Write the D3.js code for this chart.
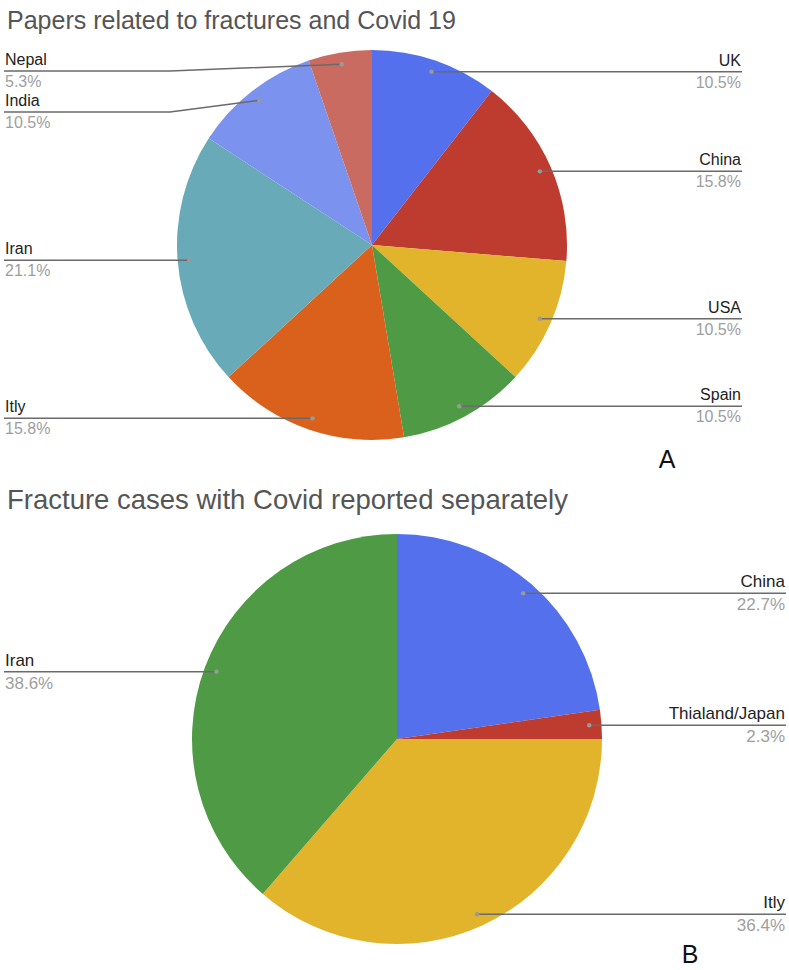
<!DOCTYPE html>
<html>
<head>
<meta charset="utf-8">
<script src="https://cdn.jsdelivr.net/npm/d3@7"></script>
<style>
  body { margin: 0; background: #fff; }
  text { font-family: "Liberation Sans", Arial, sans-serif; }
</style>
</head>
<body>
<svg id="chart" width="789" height="970"></svg>
<script>
// chart A: papers per country (counts, 19 papers)
const papersCountries = ["UK", "China", "USA", "Spain", "Itly", "Iran", "India", "Nepal"];
const papersCounts = [2, 3, 2, 2, 3, 4, 2, 1];
const papersColors = ["#5470ec", "#bd3b2f", "#e2b42b", "#4f9b45", "#d9611c", "#68aab7", "#7b92ef", "#c96b61"];

// chart B: fracture cases per country (44 cases)
const casesCountries = ["China", "Thialand/Japan", "Itly", "Iran"];
const casesCounts = [10, 1, 16, 17];
const casesColors = ["#5470ec", "#bd3b2f", "#e2b42b", "#4f9b45"];

const svg = d3.select("#chart");
svg.append("rect").attr("width", 789).attr("height", 970).attr("fill", "#fff");

const pct = d3.format(".1%");

function drawPie(opts) {
  const g = svg.append("g");
  const total = d3.sum(opts.values);

  g.append("text")
    .attr("x", 7).attr("y", opts.titleY)
    .attr("font-size", opts.titleSize).attr("fill", "#555")
    .text(opts.title);

  const pie = d3.pie().sort(null).value(d => d.v);
  const arcs = pie(opts.names.map((n, i) => ({ name: n, v: opts.values[i], color: opts.colors[i] })));
  const arc = d3.arc().innerRadius(0).outerRadius(opts.r);
  const anchorArc = d3.arc().innerRadius(opts.r * 0.94).outerRadius(opts.r * 0.94);

  const pieG = g.append("g").attr("transform", "translate(" + opts.cx + "," + opts.cy + ")");
  pieG.selectAll("path")
    .data(arcs)
    .enter().append("path")
      .attr("d", arc)
      .attr("fill", d => d.data.color);

  // label positions - straight leader unless labels would overlap
  let labels = arcs.map(d => {
    const c = anchorArc.centroid(d);
    return { d: d, ax: opts.cx + c[0], ay: opts.cy + c[1], right: c[0] > 0 };
  });
  [true, false].forEach(side => {
    const list = labels.filter(l => l.right === side).sort((a, b) => a.ay - b.ay);
    let prev = -Infinity;
    list.forEach(l => {
      l.ly = Math.max(l.ay, opts.minLabelY, prev + 41);
      prev = l.ly;
    });
  });

  labels.forEach(l => {
    const edgeX = l.right ? opts.rightX : 4;
    const elbowX = l.right ? opts.cx + opts.r + 7 : opts.cx - opts.r - 7;
    let pts = [[edgeX, l.ly]];
    if (Math.abs(l.ly - l.ay) > 1) pts.push([elbowX, l.ly]);
    pts.push([l.ax, l.ay]);

    g.append("path")
      .attr("d", d3.line()(pts))
      .attr("fill", "none")
      .attr("stroke", "#6a6a6a")
      .attr("stroke-width", 1.5);
    g.append("circle")
      .attr("cx", l.ax).attr("cy", l.ay).attr("r", 2.2)
      .attr("fill", "#9a9a9a");

    const tx = l.right ? opts.rightX - 1 : 5;
    const anchor = l.right ? "end" : "start";
    g.append("text")
      .attr("x", tx).attr("y", l.ly - 6)
      .attr("text-anchor", anchor)
      .attr("font-size", opts.labelSize).attr("fill", "#222")
      .text(l.d.data.name);
    g.append("text")
      .attr("x", tx).attr("y", l.ly + opts.labelSize)
      .attr("text-anchor", anchor)
      .attr("font-size", opts.labelSize).attr("fill", "#9e9e9e")
      .text(pct(l.d.data.v / total));
  });

  g.append("text")
    .attr("x", opts.letterX).attr("y", opts.letterY)
    .attr("text-anchor", "middle")
    .attr("font-size", 25).attr("fill", "#111")
    .text(opts.letter);
}

drawPie({
  title: "Papers related to fractures and Covid 19",
  names: papersCountries, values: papersCounts, colors: papersColors,
  titleY: 29, titleSize: 25, labelSize: 16,
  cx: 372, cy: 245, r: 195, rightX: 742, minLabelY: 71,
  letter: "A", letterX: 667, letterY: 468
});

drawPie({
  title: "Fracture cases with Covid reported separately",
  names: casesCountries, values: casesCounts, colors: casesColors,
  titleY: 509, titleSize: 27.5, labelSize: 17,
  cx: 397, cy: 739, r: 205, rightX: 786, minLabelY: 560,
  letter: "B", letterX: 690, letterY: 963
});
</script>
</body>
</html>
